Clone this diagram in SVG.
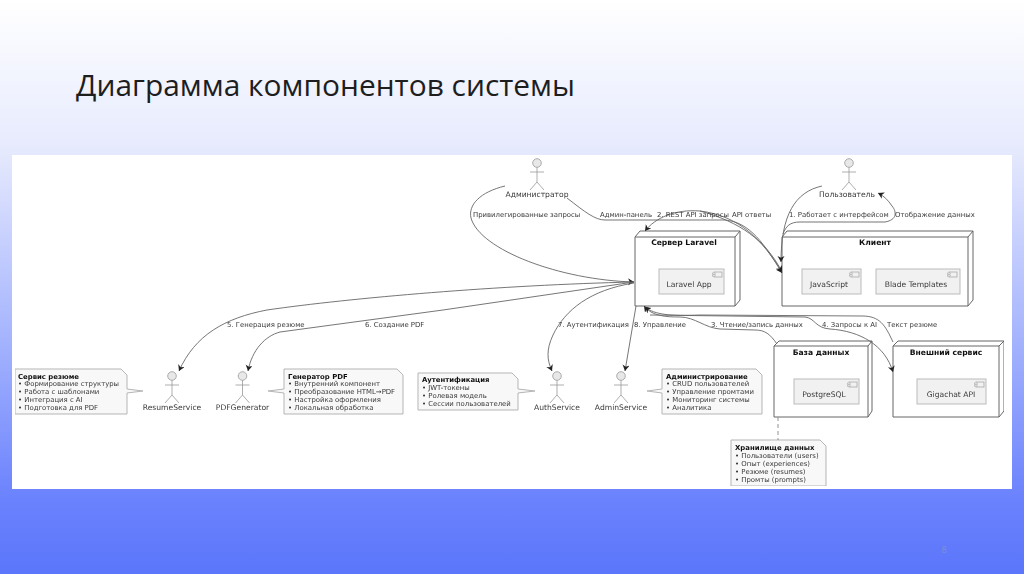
<svg xmlns="http://www.w3.org/2000/svg" width="1024" height="574" viewBox="0 0 1024 574">
<style>
text{font-family:"DejaVu Sans",sans-serif;font-size:6.9px;fill:#3a3a3a}
.c{text-anchor:middle;font-size:7.6px}
.b{font-weight:bold;fill:#111}
.title{font-family:"Open Sans","Noto Sans",sans-serif;font-size:30px;fill:#1e1e1e}
.node{fill:#fff;stroke:#666;stroke-width:1}
.comp{fill:#f1f1f1;stroke:#bbb;stroke-width:1}
.note{fill:#f8f8f8;stroke:#b5b5b5;stroke-width:1}
.actor{fill:none;stroke:#999;stroke-width:.8}
.head{fill:#e8e8e8;stroke:#999;stroke-width:.8}
.edge{fill:none;stroke:#666;stroke-width:.9}
.dash{fill:none;stroke:#888;stroke-width:.9;stroke-dasharray:4 3}
</style>
<defs>
<linearGradient id="bg" x1="0" y1="0" x2="0" y2="1">
<stop offset="0" stop-color="#ffffff"/><stop offset=".26" stop-color="#e6eafd"/><stop offset=".6" stop-color="#a3b2fd"/><stop offset=".87" stop-color="#6a82fd"/><stop offset="1" stop-color="#5c76fb"/>
</linearGradient>
<filter id="soft" x="0" y="0" width="100%" height="100%"><feGaussianBlur stdDeviation="0.3"/></filter>
<marker id="a" markerUnits="userSpaceOnUse" markerWidth="10" markerHeight="10" refX="6" refY="3.500" orient="auto"><path d="M0,0L6,3.500L0,7L1.800,3.500Z" fill="#222"/></marker>
<symbol id="ci" overflow="visible"><rect x="0" y="0" width="8" height="5" fill="#f1f1f1" stroke="#aaa" stroke-width=".8"/><rect x="-1.500" y="1" width="3" height="1.200" fill="#f1f1f1" stroke="#aaa" stroke-width=".5"/><rect x="-1.500" y="3" width="3" height="1.200" fill="#f1f1f1" stroke="#aaa" stroke-width=".5"/></symbol>
<g id="fig"><circle class="head" cx="0" cy="0" r="4.300"/><path class="actor" d="M0,4.300V19M-7,9H7M-7,27L0,19L7,27"/></g>
</defs>
<rect width="1024" height="574" fill="url(#bg)"/>
<text class="title" x="76" y="96" textLength="499" lengthAdjust="spacingAndGlyphs">Диаграмма компонентов системы</text>
<rect x="12" y="155" width="1000" height="334" fill="#fff"/>
<text x="944" y="553" class="c" style="fill:#7d8fd6;font-size:9px;font-family:'Open Sans',sans-serif">8</text>
<g filter="url(#soft)">
<g id="laravel"><path class="node" d="M635,237L640,231H740V300L735,306H635ZM635,237H735L740,231M735,237V306"/><text class="b c" x="684" y="245">Сервер Laravel</text><rect class="comp" x="659" y="269" width="65" height="25"/><use href="#ci" x="714" y="272"/><text class="c" x="689" y="287">Laravel App</text></g>
<g id="client"><path class="node" d="M782,237L787,231H973V300L968,306H782ZM782,237H968L973,231M968,237V306"/><text class="b c" x="875" y="245">Клиент</text><rect class="comp" x="802" y="269" width="59" height="25"/><use href="#ci" x="851" y="272"/><text class="c" x="829" y="287">JavaScript</text><rect class="comp" x="876" y="269" width="84" height="25"/><use href="#ci" x="949" y="272"/><text class="c" x="916" y="287">Blade Templates</text></g>
<g id="db"><path class="node" d="M774,346L779,341H872V411L868,417H774ZM774,346H868L872,341M868,346V417"/><text class="b c" x="821" y="355">База данных</text><rect class="comp" x="794" y="379" width="65" height="25"/><use href="#ci" x="849" y="382"/><text class="c" x="824" y="397">PostgreSQL</text></g>
<g id="ext"><path class="node" d="M893,346L898,341H1004V411L999,417H893ZM893,346H999L1004,341M999,346V417"/><text class="b c" x="946" y="355">Внешний сервис</text><rect class="comp" x="917" y="379" width="69" height="25"/><use href="#ci" x="976" y="382"/><text class="c" x="951" y="397">Gigachat API</text></g>

<g id="admin"><use href="#fig" x="537" y="163"/><text class="c" x="537" y="197">Администратор</text></g>
<g id="user"><use href="#fig" x="849" y="163"/><text class="c" x="847" y="197">Пользователь</text></g>
<g id="resume"><use href="#fig" x="172" y="376"/><text class="c" x="172" y="410">ResumeService</text></g>
<g id="pdf"><use href="#fig" x="242.500" y="376"/><text class="c" x="242.500" y="410">PDFGenerator</text></g>
<g id="auth"><use href="#fig" x="557" y="376"/><text class="c" x="557" y="410">AuthService</text></g>
<g id="adminsvc"><use href="#fig" x="621" y="376"/><text class="c" x="621" y="410">AdminService</text></g>

<g id="note-resume"><path class="note" d="M15,369H121L127,375V389L143,391L127,393V414H15Z"/><text class="b" x="18" y="378.500">Сервис резюме</text><text x="18" y="386">• Формирование структуры</text><text x="18" y="394">• Работа с шаблонами</text><text x="18" y="402">• Интеграция с AI</text><text x="18" y="410">• Подготовка для PDF</text></g>
<g id="note-pdf"><path class="note" d="M284,369H397L403,375V414H284V393L268,391L284,389Z"/><text class="b" x="288" y="378.500">Генератор PDF</text><text x="288" y="386">• Внутренний компонент</text><text x="288" y="394">• Преобразование HTML→PDF</text><text x="288" y="402">• Настройка оформления</text><text x="288" y="410">• Локальная обработка</text></g>
<g id="note-auth"><path class="note" d="M418,373H512L518,379V389L535,391L518,393V410H418Z"/><text class="b" x="422" y="381.500">Аутентификация</text><text x="422" y="389.500">• JWT-токены</text><text x="422" y="397.500">• Ролевая модель</text><text x="422" y="405.500">• Сессии пользователей</text></g>
<g id="note-admin"><path class="note" d="M662,369H756L762,375V414H662V393L647,391L662,389Z"/><text class="b" x="666" y="378.500">Администрирование</text><text x="666" y="386">• CRUD пользователей</text><text x="666" y="394">• Управление промтами</text><text x="666" y="402">• Мониторинг системы</text><text x="666" y="410">• Аналитика</text></g>
<g id="note-db"><path class="note" d="M731,440H820L826,446V486H731Z"/><text class="b" x="735" y="449.500">Хранилище данных</text><text x="735" y="457.500">• Пользователи (users)</text><text x="735" y="465.500">• Опыт (experiences)</text><text x="735" y="473.500">• Резюме (resumes)</text><text x="735" y="481.500">• Промты (prompts)</text></g>

<g id="connectors">
<path class="edge" marker-end="url(#a)" d="M505,186C480,192 468,205 471,218C480,250 560,280 634,282"/>
<path class="edge" marker-end="url(#a)" d="M567,198C585,212 595,220 605,220L725,220C750,222 765,245 782,273"/>
<path class="edge" marker-end="url(#a)" d="M781,270C765,240 740,222 700,211C675,209 655,218 645,231"/>
<path class="edge" marker-end="url(#a)" d="M700,211C740,216 762,240 782,272"/>
<path class="edge" marker-end="url(#a)" d="M822,186C795,192 781,215 781,262"/>
<path class="edge" marker-end="url(#a)" d="M783,234C786,226 790,222 800,222L885,222C897,220 897,212 892,206C888,200 884,196 878,193"/>
<path class="edge" marker-end="url(#a)" d="M634,282C500,285 350,298 267,310C225,318 195,335 179,371"/>
<path class="edge" marker-end="url(#a)" d="M634,282L443,310L280,332C265,336 252,350 248,371"/>
<path class="edge" marker-end="url(#a)" d="M634,283C590,290 565,310 553,335C546,350 547,360 552,371"/>
<path class="edge" marker-end="url(#a)" d="M636,306L625,371"/>
<path class="edge" marker-end="url(#a)" d="M777,344C770,334 765,330 755,330L720,329C705,328 695,317 680,317C665,317 652,316 644,306"/>
<path class="edge" marker-end="url(#a)" d="M650,315L805,317C815,318 815,328 830,329C860,331 885,345 893,372"/>
<path class="edge" marker-end="url(#a)" d="M893,342C885,325 880,316 862,316L700,315C670,316 655,315 645,307"/>
<path class="dash" d="M778,417V440"/>
<text x="473" y="216.500">Привилегированные запросы</text>
<text x="600" y="216.500">Админ-панель</text>
<text x="657" y="216.500">2. REST API запросы</text>
<text x="732" y="216.500">API ответы</text>
<text x="789" y="216.500">1. Работает с интерфейсом</text>
<text x="895" y="216.500">Отображение данных</text>
<text x="227" y="326.500">5. Генерация резюме</text>
<text x="365" y="326.500">6. Создание PDF</text>
<text x="558" y="326.500">7. Аутентификация</text>
<text x="634" y="326.500">8. Управление</text>
<text x="711" y="326.500">3. Чтение/запись данных</text>
<text x="822" y="326.500">4. Запросы к AI</text>
<text x="887" y="326.500">Текст резюме</text>
</g>
</g>
</svg>
